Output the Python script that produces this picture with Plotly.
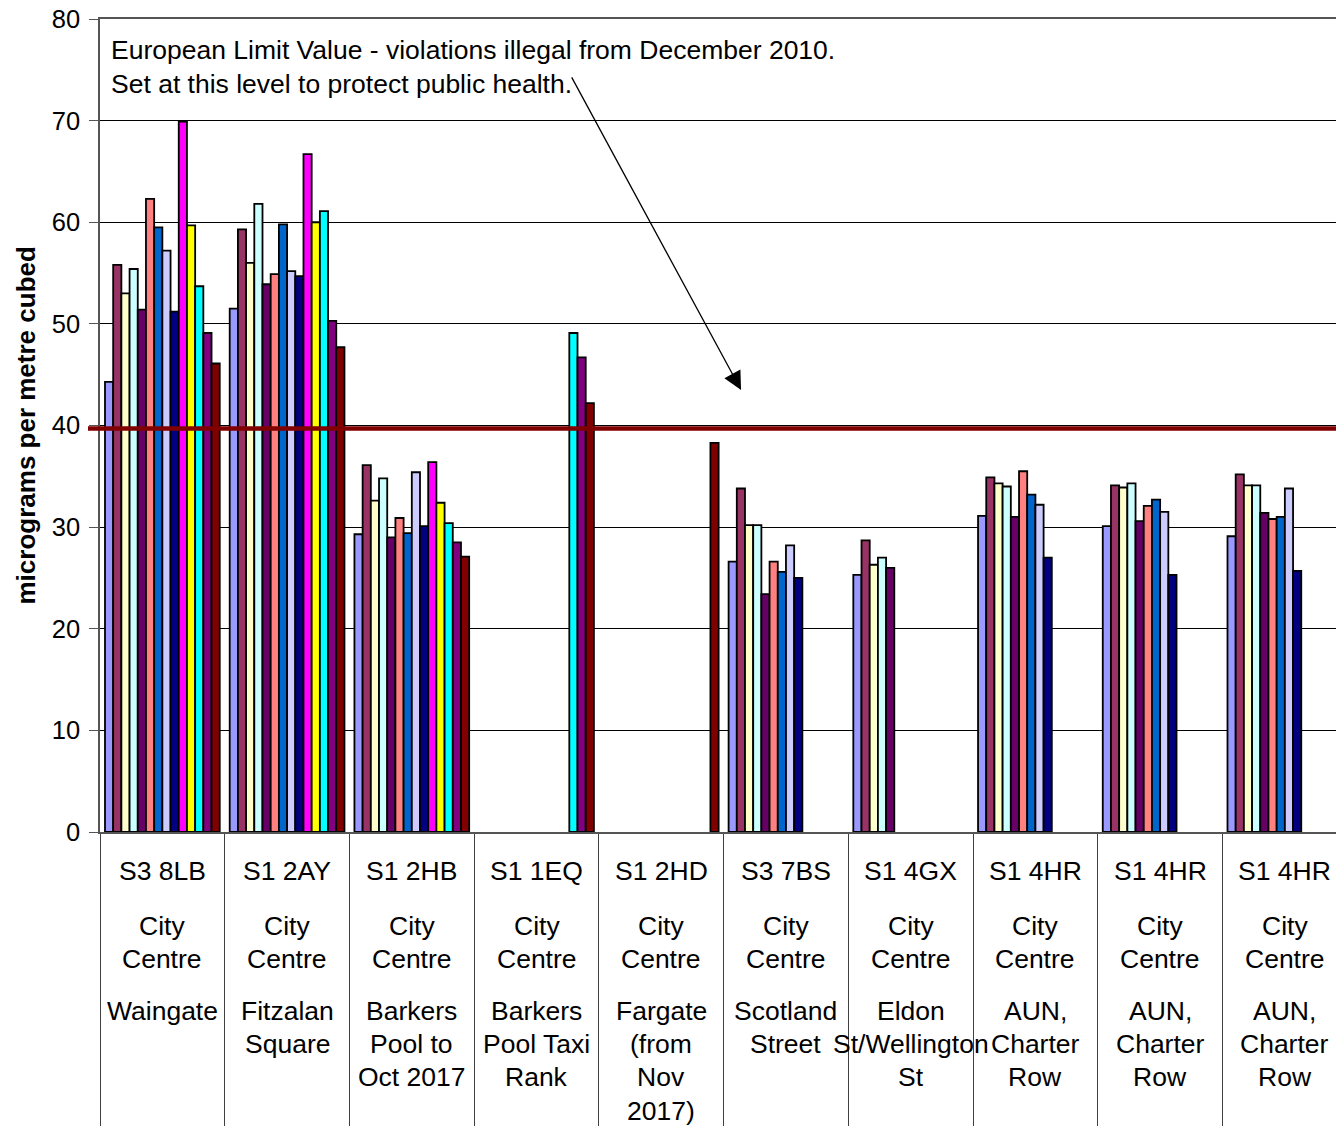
import plotly.graph_objects as go

# ---------------- data ----------------
codes = ["S3 8LB", "S1 2AY", "S1 2HB", "S1 1EQ", "S1 2HD",
         "S3 7BS", "S1 4GX", "S1 4HR", "S1 4HR", "S1 4HR"]
areas = ["City<br>Centre"] * 10
sites = ["Waingate", "Fitzalan<br>Square", "Barkers<br>Pool to<br>Oct 2017",
         "Barkers<br>Pool Taxi<br>Rank", "Fargate<br>(from<br>Nov<br>2017)",
         "Scotland<br>Street", "Eldon<br>St/Wellington<br>St",
         "AUN,<br>Charter<br>Row", "AUN,<br>Charter<br>Row", "AUN,<br>Charter<br>Row"]

N = None
waingate      = [44.3, 55.8, 53.0, 55.4, 51.4, 62.3, 59.5, 57.2, 51.2, 69.9, 59.7, 53.7, 49.1, 46.1]
fitzalan      = [51.5, 59.3, 56.0, 61.8, 53.9, 54.9, 59.8, 55.2, 54.7, 66.7, 60.0, 61.1, 50.3, 47.7]
barkers_pool  = [29.3, 36.1, 32.6, 34.8, 29.0, 30.9, 29.4, 35.4, 30.1, 36.4, 32.4, 30.4, 28.5, 27.1]
barkers_taxi  = [N, N, N, N, N, N, N, N, N, N, N, 49.1, 46.7, 42.2]
fargate       = [N, N, N, N, N, N, N, N, N, N, N, N, N, 38.3]
scotland_st   = [26.6, 33.8, 30.2, 30.2, 23.4, 26.6, 25.6, 28.2, 25.0, N, N, N, N, N]
eldon_st      = [25.3, 28.7, 26.3, 27.0, 26.0, N, N, N, N, N, N, N, N, N]
aun_charter_1 = [31.1, 34.9, 34.3, 34.0, 31.0, 35.5, 33.2, 32.2, 27.0, N, N, N, N, N]
aun_charter_2 = [30.1, 34.1, 33.9, 34.3, 30.6, 32.1, 32.7, 31.5, 25.3, N, N, N, N, N]
aun_charter_3 = [29.1, 35.2, 34.1, 34.1, 31.4, 30.8, 31.0, 33.8, 25.7, N, N, N, N, N]

site_values = [waingate, fitzalan, barkers_pool, barkers_taxi, fargate,
               scotland_st, eldon_st, aun_charter_1, aun_charter_2, aun_charter_3]

series_names = [f"Series {i + 1}" for i in range(14)]
series_colors = ["#9999FF", "#993366", "#FFFFCC", "#CCFFFF", "#660066", "#FF8080",
                 "#0066CC", "#CCCCFF", "#000080", "#FF00FF", "#FFFF00", "#00FFFF",
                 "#800080", "#800000"]

limit_value = 39.7
y_ticks = [0, 10, 20, 30, 40, 50, 60, 70, 80]

# ---------------- figure ----------------
W, H = 1336, 1126
ML, MR, MT, MB = 100, 0, 19, 294
PH = H - MT - MB
PW = W - ML - MR
PLOT_BOTTOM = H - MB         # pixel of y = 0
PLOT_LEFT = ML               # pixel of left axis
FONT = "Liberation Sans, Arial, sans-serif"
LBL = 26.5

x_pos = list(range(len(codes)))

fig = go.Figure()
for s, (name, color) in enumerate(zip(series_names, series_colors)):
    fig.add_trace(go.Bar(
        x=x_pos,
        y=[vals[s] for vals in site_values],
        name=name,
        marker=dict(color=color, line=dict(color="#000000", width=1.8)),
    ))

def py(p):  # pixel y -> paper
    return (PLOT_BOTTOM - p) / PH

def px(p):  # pixel x -> paper
    return (p - PLOT_LEFT) / PW

ann = []
for i in x_pos:
    ann.append(dict(x=i, y=py(871), xref="x", yref="paper", text=codes[i],
                    showarrow=False, xanchor="center", yanchor="middle"))
    for k, line in enumerate(areas[i].split("<br>")):
        ann.append(dict(x=i, y=py(926 + 32.5 * k), xref="x", yref="paper", text=line,
                        showarrow=False, xanchor="center", yanchor="middle"))
    for k, line in enumerate(sites[i].split("<br>")):
        ann.append(dict(x=i, y=py(1011 + 33.2 * k), xref="x", yref="paper", text=line,
                        showarrow=False, xanchor="center", yanchor="middle"))

ann.append(dict(x=px(110), y=py(50), xref="paper", yref="paper",
                text="European Limit Value - violations illegal from December 2010.",
                showarrow=False, xanchor="left", yanchor="middle"))
ann.append(dict(x=px(110), y=py(84), xref="paper", yref="paper",
                text="Set at this level to protect public health.",
                showarrow=False, xanchor="left", yanchor="middle"))

# arrow pointing at the limit line
ann.append(dict(x=4.64, y=43.5, xref="x", yref="y", ax=3.28, ay=74.3,
                axref="x", ayref="y", text="", showarrow=True,
                arrowhead=2, arrowsize=2.8, arrowwidth=1.3, arrowcolor="#000000",
                standoff=0, startstandoff=0))

# y-axis title
ann.append(dict(x=px(25), y=0.5, xref="paper", yref="paper",
                text="<b>micrograms per metre cubed</b>", textangle=-90,
                showarrow=False, xanchor="center", yanchor="middle",
                font=dict(size=26, family=FONT, color="#000000")))

for a in ann:
    a.setdefault("font", dict(size=LBL, family=FONT, color="#000000"))
    a["borderpad"] = 0

fig.update_layout(
    width=W, height=H,
    margin=dict(l=ML, r=MR, t=MT, b=MB, pad=0, autoexpand=False),
    paper_bgcolor="white", plot_bgcolor="white",
    barmode="group", bargap=0.08, bargroupgap=0,
    showlegend=False,
    font=dict(family=FONT, size=25, color="#000000"),
    xaxis=dict(range=[-0.5, len(codes) - 0.59], showgrid=False, zeroline=False,
               showticklabels=False, tickmode="array",
               tickvals=[i - 0.5 for i in x_pos], automargin=False,
               ticks="outside", ticklen=MB, tickwidth=1, tickcolor="#404040",
               showline=True, linecolor="#555555", linewidth=1.5, mirror=True),
    yaxis=dict(range=[0, 80], tickmode="array", tickvals=y_ticks, automargin=False,
               showgrid=True, gridcolor="#000000", gridwidth=1, zeroline=False,
               ticks="outside", ticklen=9, tickwidth=1, tickcolor="#555555",
               showline=True, linecolor="#555555", linewidth=1.5,
               tickfont=dict(size=25.5, family=FONT, color="#000000"),
               ticklabelstandoff=4, ticklabeloverflow="allow"),
    annotations=ann,
    shapes=[dict(type="line", xref="paper", yref="y", x0=px(88), x1=1,
                 y0=limit_value, y1=limit_value,
                 line=dict(color="#800000", width=4.5), layer="above")],
)

fig.write_html("out.html",
               config={"displayModeBar": False},
               post_script="document.body.style.margin='0';"
                           "document.body.style.overflow='hidden';")
